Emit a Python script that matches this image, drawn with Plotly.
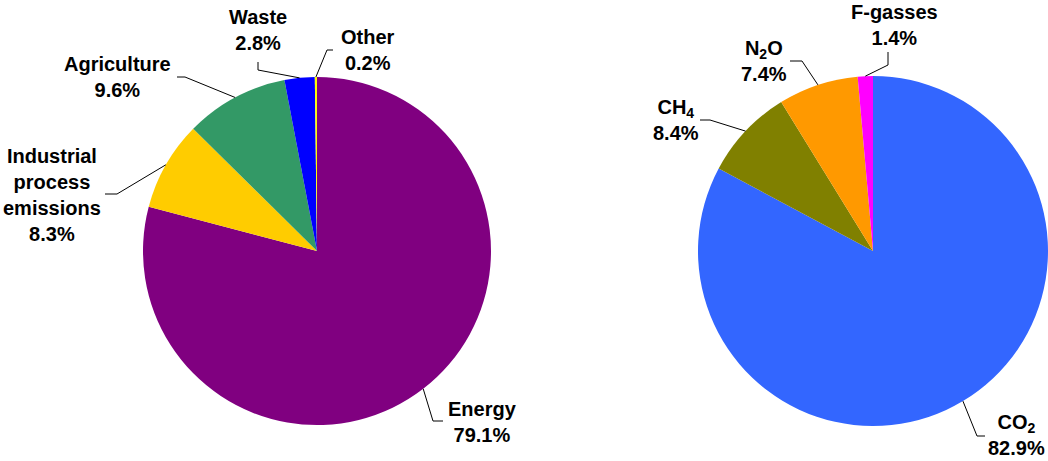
import math
import plotly.graph_objects as go

W, H = 1048, 461

# ---- data ----
sector_labels = ["Energy", "Industrial<br>process<br>emissions", "Agriculture", "Waste", "Other"]
sector_values = [79.1, 8.3, 9.6, 2.8, 0.2]
sector_colors = ["#800080", "#FFCC00", "#339966", "#0000FF", "#FFFF00"]

gas_labels = ["CO<sub>2</sub>", "CH<sub>4</sub>", "N<sub>2</sub>O", "F-gasses"]
gas_values = [82.9, 8.4, 7.4, 1.4]
gas_colors = ["#3366FF", "#808000", "#FF9900", "#FF00FF"]

# ---- layout (pixels) ----
left_pie = dict(cx=317, cy=251, r=174)
right_pie = dict(cx=873, cy=251, r=175)

# label centre, elbow, end-of-leader (pixels)
sector_label_pos = [(482, 422), (52, 195), (117, 77), (258, 30), (368, 50)]
sector_leader = [((433, 421), (443, 421)), ((117, 194), (105, 194)), ((185, 77), (177, 77)),
                 ((258, 70), (258, 62)), ((327, 50), (333, 50))]
gas_label_pos = [(1016, 435), (676, 120), (764, 61), (894, 25)]
gas_leader = [((977, 436), (985, 436)), ((710, 120), (700, 120)), ((802, 61), (790, 61)),
              ((888, 65), (888, 52))]


def px(x):
    return x / W


def py(y):
    return 1 - y / H


def domain(p):
    return dict(x=[px(p["cx"] - p["r"]), px(p["cx"] + p["r"])],
                y=[py(p["cy"] + p["r"]), py(p["cy"] - p["r"])])


fig = go.Figure()
for vals, labs, cols, p in [(sector_values, sector_labels, sector_colors, left_pie),
                            (gas_values, gas_labels, gas_colors, right_pie)]:
    fig.add_trace(go.Pie(values=vals, labels=labs, marker=dict(colors=cols, line=dict(width=0)),
                         sort=False, direction="clockwise", rotation=0, textinfo="none",
                         hoverinfo="label+percent", domain=domain(p), showlegend=False))

annotations = []
shapes = []
font = dict(family="Liberation Sans, Arial, sans-serif", size=20, color="black", weight="bold")
for vals, labs, pos, leaders, p in [(sector_values, sector_labels, sector_label_pos, sector_leader, left_pie),
                                    (gas_values, gas_labels, gas_label_pos, gas_leader, right_pie)]:
    total = sum(vals)
    cum = 0.0
    for v, lab, (lx, ly), (elbow, end) in zip(vals, labs, pos, leaders):
        mid = (cum + v / 2) / total * 2 * math.pi
        cum += v
        ex = p["cx"] + p["r"] * math.sin(mid)
        ey = p["cy"] - p["r"] * math.cos(mid)
        annotations.append(dict(x=px(lx), y=py(ly), xref="paper", yref="paper",
                                text=f"{lab}<br>{v:.1f}%", showarrow=False, font=font,
                                xanchor="center", yanchor="middle", align="center"))
        path = (f"M {px(ex)} {py(ey)} L {px(elbow[0])} {py(elbow[1])} "
                f"L {px(end[0])} {py(end[1])}")
        shapes.append(dict(type="path", xref="paper", yref="paper", path=path,
                           line=dict(color="black", width=1)))

fig.update_layout(width=W, height=H, margin=dict(l=0, r=0, t=0, b=0),
                  paper_bgcolor="white", plot_bgcolor="white",
                  annotations=annotations, shapes=shapes)
fig.write_html("out.html", config={"displayModeBar": False},
               post_script="document.body.style.margin='0px';document.body.style.overflow='hidden';")
